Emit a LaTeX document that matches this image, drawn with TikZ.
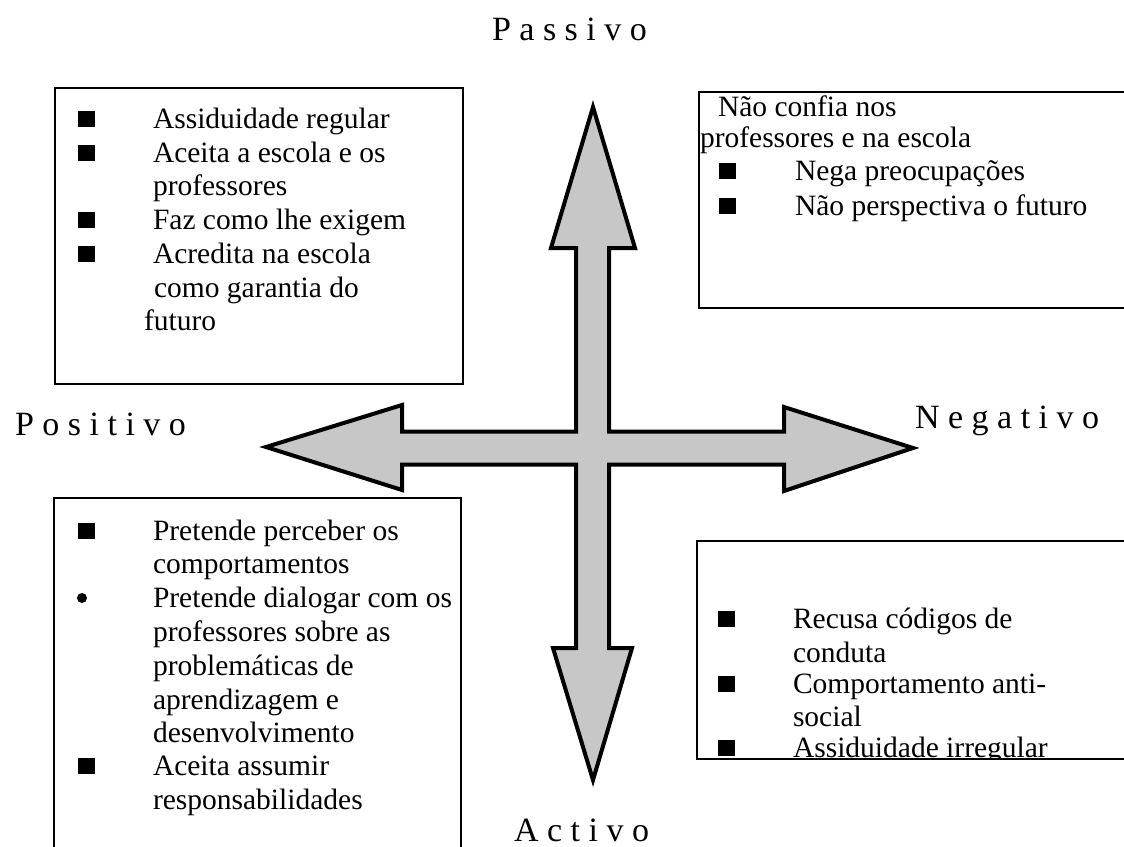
\documentclass[tikz,border=0pt]{standalone}
\usepackage{fontspec}
\setmainfont{Liberation Serif}
\begin{document}
\begin{tikzpicture}[x=1pt,y=-1pt,
  txt/.style={font=\fontsize{29.5}{33.6}\selectfont, anchor=base west, inner sep=0pt, outer sep=0pt},
  lbl/.style={font=\fontsize{34}{40}\selectfont, anchor=base west, inner sep=0pt, outer sep=0pt},
  sqb/.style={fill=black, minimum width=17pt, minimum height=16pt, inner sep=0pt, anchor=south west},
  dotb/.style={circle, fill=black, minimum size=10pt, inner sep=0pt},
  boxline/.style={draw=black, line width=1.8pt},
  cross/.style={draw=black, line width=4pt, fill=black!22, line join=miter}]
\useasboundingbox (0,0) rectangle (1124,846);

% central cross of arrows
\draw[cross] (593,107) -- (635,248) -- (609,248) -- (609,431.5) -- (784,431.5) -- (784,407)
  -- (913,448) -- (784,491) -- (784,464.5) -- (609,464.5) -- (609,648) -- (632,648)
  -- (593,780) -- (553,648) -- (576,648) -- (576,464.5) -- (402,464.5) -- (402,490)
  -- (266,447) -- (402,405) -- (402,431.5) -- (576,431.5) -- (576,248) -- (551,248) -- cycle;

% axis labels
\node[lbl] (passivo) at (492,40) {P a s s i v o};
\node[lbl] (activo) at (514,841) {A c t i v o};
\node[lbl] (positivo) at (15,435) {P o s i t i v o};
\node[lbl] (negativo) at (915,428) {N e g a t i v o};

% top-left box
\draw[boxline] (55,88) rectangle (463,384);
\node[sqb] (tl1b) at (78,127) {};
\node[txt] (tl1) at (153,128) {Assiduidade regular};
\node[sqb] (tl2b) at (78,161) {};
\node[txt] (tl2) at (153,162) {Aceita a escola e os};
\node[txt] (tl3) at (153,195) {professores};
\node[sqb] (tl4b) at (78,228) {};
\node[txt] (tl4) at (153,229) {Faz como lhe exigem};
\node[sqb] (tl5b) at (78,262) {};
\node[txt] (tl5) at (153,263) {Acredita na escola};
\node[txt] (tl6) at (154,297) {como garantia do};
\node[txt] (tl7) at (144,330) {futuro};

% top-right box
\draw[boxline] (1130,92) -- (699,92) -- (699,308) -- (1130,308);
\node[txt] (tr1) at (718,116) {Não confia nos};
\node[txt] (tr2) at (700,147) {professores e na escola};
\node[sqb] (tr3b) at (719,179) {};
\node[txt] (tr3) at (795,180) {Nega preocupações};
\node[sqb] (tr4b) at (719,214) {};
\node[txt] (tr4) at (795,215) {Não perspectiva o futuro};

% bottom-left box
\draw[boxline] (54,850) -- (54,498) -- (461,498) -- (461,850);
\node[sqb] (bl1b) at (78,539) {};
\node[txt] (bl1) at (153,540) {Pretende perceber os};
\node[txt] (bl2) at (153,573) {comportamentos};
\node[dotb] (bl3b) at (82,598) {};
\node[txt] (bl3) at (153,607) {Pretende dialogar com os};
\node[txt] (bl4) at (153,641) {professores sobre as};
\node[txt] (bl5) at (153,675) {problemáticas de};
\node[txt] (bl6) at (153,709) {aprendizagem e};
\node[txt] (bl7) at (153,742) {desenvolvimento};
\node[sqb] (bl8b) at (78,774) {};
\node[txt] (bl8) at (153,775) {Aceita assumir};
\node[txt] (bl9) at (153,809) {responsabilidades};

% bottom-right box
\begin{scope}
\clip (690,541) rectangle (1124,759);
\node[sqb] (br1b) at (718,627) {};
\node[txt] (br1) at (793,628) {Recusa códigos de};
\node[txt] (br2) at (793,662) {conduta};
\node[sqb] (br3b) at (718,692) {};
\node[txt] (br3) at (793,693) {Comportamento anti-};
\node[txt] (br4) at (793,726) {social};
\node[sqb] (br5b) at (718,756) {};
\node[txt] (br5) at (793,757) {Assiduidade irregular};
\end{scope}
\draw[boxline] (1130,541) -- (697,541) -- (697,759) -- (1130,759);
\end{tikzpicture}
\end{document}
